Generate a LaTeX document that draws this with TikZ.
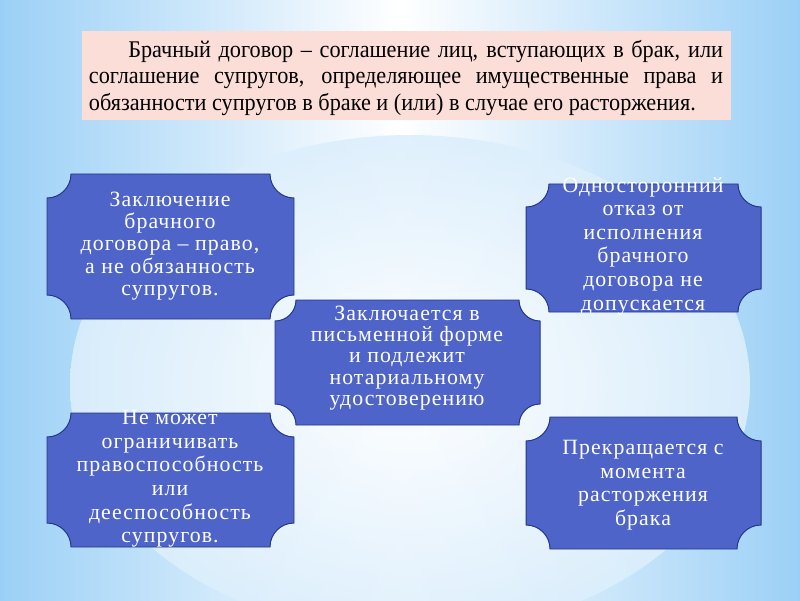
\documentclass[tikz,border=0pt]{standalone}
\usepackage{fontspec}
\setmainfont{Liberation Serif}
\newfontfamily\topfont[FakeStretch=0.93]{Liberation Serif}
\newfontfamily\plaquefont[LetterSpace=5]{Liberation Serif}
\definecolor{bgblue}{RGB}{155,208,246}
\definecolor{plaqueblue}{RGB}{78,100,200}
\definecolor{plaqueline}{RGB}{35,55,140}
\definecolor{pinkbox}{RGB}{251,222,215}
\tikzset{
  plaquestyle/.style={fill=plaqueblue, draw=plaqueline, line width=0.7pt},
  plaquetext/.style={text=white, align=center, inner sep=0pt,
    font=\plaquefont\fontsize{15.5pt}{16.8pt}\selectfont},
}
% #1 x-left, #2 y-top, #3 x-right, #4 y-bottom (pixels, y downwards), #5 corner radius
\newcommand\plaqueshape[5]{%
  \draw[plaquestyle] (#1,600-#2-#5) arc[start angle=270,end angle=360,radius=#5]
    -- (#3-#5,600-#2) arc[start angle=180,end angle=270,radius=#5]
    -- (#3,600-#4+#5) arc[start angle=90,end angle=180,radius=#5]
    -- (#1+#5,600-#4) arc[start angle=0,end angle=90,radius=#5] -- cycle;}
\begin{document}
\begin{tikzpicture}[x=0.025cm,y=0.025cm]
\useasboundingbox (0,0) rectangle (800,600);
% background
\shade[left color=bgblue, right color=bgblue, middle color=white] (0,0) rectangle (800,600);
\shade[inner color=white, outer color=bgblue!35!white, opacity=0.9] (410,215) ellipse [x radius=340, y radius=250];
% title box
\fill[pinkbox] (82,600-31) rectangle (731,600-120);
\node[text width=451pt, align=justify, inner sep=0pt, font=\topfont\fontsize{17pt}{19pt}\selectfont] (title) at (406,600-78)
{\hspace*{28pt}Брачный договор – соглашение лиц, вступающих в брак, или\linebreak соглашение супругов, определяющее имущественные права и\linebreak обязанности супругов в браке и (или) в случае его расторжения.};
% plaques
\plaqueshape{47}{174}{294}{319}{24}
\plaqueshape{526}{184}{761}{312}{23}
\plaqueshape{47}{413}{294}{547}{24}
\plaqueshape{526}{417}{761}{549}{24}
\plaqueshape{275}{300}{540}{425}{21}
\node[plaquetext, font=\plaquefont\fontsize{15.5pt}{15.8pt}\selectfont] (p1) at (170,600-246) {Заключение\\брачного\\договора – право,\\а не обязанность\\супругов.};
\node[plaquetext] (p2) at (643,600-246) {Односторонний\\отказ от\\исполнения\\брачного\\договора не\\допускается};
\node[plaquetext, font=\plaquefont\fontsize{15.5pt}{15.2pt}\selectfont] (p3) at (407,600-358) {Заключается в\\письменной форме\\и подлежит\\нотариальному\\удостоверению};
\node[plaquetext] (p4) at (170,600-479) {Не может\\ограничивать\\правоспособность\\или\\дееспособность\\супругов.};
\node[plaquetext] (p5) at (643,600-485) {Прекращается с\\момента\\расторжения\\брака};
\end{tikzpicture}
\end{document}
